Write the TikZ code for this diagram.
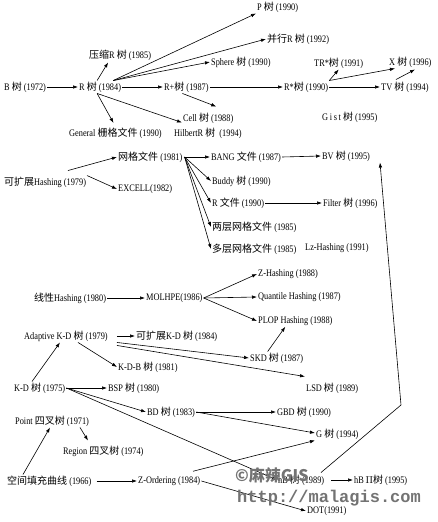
\documentclass[tikz,border=0pt]{standalone}
\usepackage{fontspec}
\setmainfont{Liberation Serif}[FakeStretch=0.83]
\newfontfamily\cjk{Noto Sans CJK SC}
\newfontfamily\wmono{Liberation Mono}
\usetikzlibrary{arrows.meta}
\newcommand\zs{{\cjk 树}}
\begin{document}
\begin{tikzpicture}[x=1pt,y=-1pt,
  lbl/.style={anchor=west,inner sep=1pt,font=\fontsize{10}{11}\selectfont},
  arr/.style={-{Latex[length=5pt,width=3.5pt]},line width=0.6pt},
  wm/.style={anchor=west,inner sep=0pt,text=black!55}]
\useasboundingbox (0,0) rectangle (438,522);
% ---- R-tree family
\node[lbl] (B) at (3,87) {B \zs\ (1972)};
\node[lbl] (R) at (78,87) {R \zs\ (1984)};
\node[lbl] (yasuo) at (88,55) {{\cjk 压缩}R \zs\ (1985)};
\node[lbl] (P) at (256,7) {P \zs\ (1990)};
\node[lbl] (bingxing) at (266,39) {{\cjk 并行}R \zs\ (1992)};
\node[lbl] (sphere) at (210,62) {Sphere \zs\ (1990)};
\node[lbl] (Rplus) at (163,87) {R+\zs\ (1987)};
\node[lbl] (Rstar) at (283,87) {R*\zs\ (1990)};
\node[lbl] (TRstar) at (313,63) {TR*\zs\ (1991)};
\node[lbl] (X) at (388,62) {X \zs\ (1996)};
\node[lbl] (TV) at (380,87) {TV \zs\ (1994)};
\node[lbl] (cell) at (182,118) {Cell \zs\ (1988)};
\node[lbl] (general) at (68,133) {General {\cjk 栅格文件} (1990)};
\node[lbl] (hilbert) at (173,133) {HilbertR \zs\ \ (1994)};
\node[lbl] (gist) at (321,117) {G\,i\,s\,t \zs\ (1995)};
% ---- grid files
\node[lbl] (kh) at (3,182) {{\cjk 可扩展}Hashing (1979)};
\node[lbl] (wg) at (117,157) {{\cjk 网格文件} (1981)};
\node[lbl] (excell) at (117,189) {EXCELL(1982)};
\node[lbl] (bang) at (210,157) {BANG {\cjk 文件} (1987)};
\node[lbl] (buddy) at (211,181) {Buddy \zs\ (1990)};
\node[lbl] (rfile) at (211,203) {R {\cjk 文件} (1990)};
\node[lbl] (liangceng) at (211,227) {{\cjk 两层网格文件} (1985)};
\node[lbl] (duoceng) at (211,249) {{\cjk 多层网格文件} (1985)};
\node[lbl] (bv) at (321,156) {BV \zs\ (1995)};
\node[lbl] (filter) at (322,203) {Filter \zs\ (1996)};
\node[lbl] (lz) at (304,248) {Lz-Hashing (1991)};
% ---- hashing
\node[lbl] (xx) at (33,298) {{\cjk 线性}Hashing (1980)};
\node[lbl] (molhpe) at (145,298) {MOLHPE(1986)};
\node[lbl] (zh) at (257,274) {Z-Hashing (1988)};
\node[lbl] (qh) at (257,297) {Quantile Hashing (1987)};
\node[lbl] (ploph) at (257,321) {PLOP Hashing (1988)};
% ---- K-D family
\node[lbl] (ad) at (23,336) {Adaptive K-D \zs\ (1979)};
\node[lbl] (kkd) at (135,336) {{\cjk 可扩展}K-D \zs\ (1984)};
\node[lbl] (kdb) at (117,367) {K-D-B \zs\ (1981)};
\node[lbl] (skd) at (249,358) {SKD \zs\ (1987)};
\node[lbl] (lsd) at (305,388) {LSD \zs\ (1989)};
\node[lbl] (kd) at (13,388) {K-D \zs\ (1975)};
\node[lbl] (bsp) at (107,388) {BSP \zs\ (1980)};
\node[lbl] (bd) at (146,412) {BD \zs\ (1983)};
\node[lbl] (gbd) at (276,412) {GBD \zs\ (1990)};
\node[lbl] (g) at (315,434) {G \zs\ (1994)};
\node[lbl] (point) at (14,421) {Point {\cjk 四叉树} (1971)};
\node[lbl] (region) at (62,451) {Region {\cjk 四叉树} (1974)};
\node[lbl] (kj) at (6,481) {{\cjk 空间填充曲线} (1966)};
\node[lbl] (zo) at (137,481) {Z-Ordering (1984)};
\node[lbl] (hb) at (277,480) {hB \zs\ (1989)};
\node[lbl] (hbp) at (353,480) {hB\,$\Pi$\zs\ (1995)};
\node[lbl] (dot) at (306,511) {DOT(1991)};
% ---- connectors: R-tree family
\coordinate (Rfan) at ([xshift=-9pt]R.north east);
\draw[arr] (B.east) -- (R.west);
\draw[arr] ([xshift=-3pt]R.north) -- ([xshift=-12pt,yshift=-1pt]yasuo.south);
\draw[arr] (Rfan) -- (P.south west);
\draw[arr] (Rfan) -- (bingxing.west);
\draw[arr] (Rfan) -- (sphere.west);
\draw[arr] (R.east) -- (Rplus.west);
\draw[arr,shorten >=4pt] ([xshift=-3pt]R.south) -- (general.north);
\draw[arr] ([xshift=-3pt]R.south) -- ([xshift=9pt,yshift=4pt]hilbert.north west);
\draw[arr] ([xshift=-4pt]Rplus.south) -- ([xshift=8pt,yshift=5pt]cell.north);
\draw[arr] (Rplus.east) -- (Rstar.west);
\draw[arr] (Rstar.north east) -- (TRstar.south);
\draw[arr] (Rstar.north east) -- ([xshift=7pt]X.south west);
\draw[arr] (Rstar.east) -- (TV.west);
\draw[arr] ([xshift=16pt,yshift=1pt]TV.north west) -- ([xshift=27pt,yshift=-1pt]X.south west);
% ---- grid files
\coordinate (wgfan) at ([xshift=1pt]wg.east);
\draw[arr] ([xshift=65pt,yshift=5pt]kh.north west) -- (wg.west);
\draw[arr] ([xshift=84pt]kh.north west) -- (excell.west);
\draw[arr] (wg.east) -- (bang.west);
\draw[arr] (wgfan) -- (buddy.west);
\draw[arr] (wgfan) -- (rfile.west);
\draw[arr] (wgfan) -- (liangceng.west);
\draw[arr] (wgfan) -- (duoceng.west);
\draw[arr] (bang.east) -- (bv.west);
\draw[arr] (rfile.east) -- (filter.west);
\coordinate (bend) at (401,405);
\draw[arr] ([xshift=44pt,yshift=1pt]hb.north west) -- (bend) -- ([xshift=59pt]bv.south west);
% ---- hashing
\draw[arr] (xx.east) -- (molhpe.west);
\draw[arr] (molhpe.east) -- (zh.west);
\draw[arr] (molhpe.east) -- (qh.west);
\draw[arr] (molhpe.east) -- (ploph.west);
% ---- K-D family
\coordinate (adfan) at ([xshift=94pt]ad.south west);
\draw[arr,shorten <=8pt] (ad.east) -- (kkd.west);
\draw[arr] ([xshift=55pt]ad.south west) -- (kdb.west);
\draw[arr] (adfan) -- (skd.west);
\draw[arr] ([yshift=-3pt]adfan) -- ([yshift=5pt]lsd.north west);
\draw[arr] ([xshift=-9pt]skd.north) -- ([xshift=-10pt]ploph.south);
\draw[arr] ([xshift=19pt]kd.north west) -- ([xshift=37pt]ad.south west);
\draw[arr] (kd.east) -- (bsp.west);
\draw[arr] (kd.east) -- (bd.west);
\draw[arr] (kd.east) -- (hb.west);
\draw[arr] (bd.east) -- (gbd.west);
\draw[arr] (bd.east) -- ([yshift=1pt]g.west);
\draw[arr] ([xshift=66pt]point.south west) -- ([xshift=26pt,yshift=4pt]region.north west);
\draw[arr] ([xshift=17pt]kj.north west) -- ([xshift=36pt]point.south west);
\draw[arr,shorten <=4pt] (kj.east) -- (zo.west);
\draw[arr] ([xshift=56pt,yshift=4pt]zo.north west) -- (g.south west);
\draw[arr] (zo.east) -- (dot.west);
\draw[arr,shorten <=6pt] (hb.east) -- (hbp.west);
% ---- watermark
\node[wm,font=\cjk\bfseries\fontsize{16}{16}\selectfont] (wm1) at (235,475) {©麻辣GIS};
\node[wm,font=\wmono\bfseries\fontsize{17}{17}\selectfont] (wm2) at (237,498) {http://malagis.com};
\end{tikzpicture}
\end{document}
